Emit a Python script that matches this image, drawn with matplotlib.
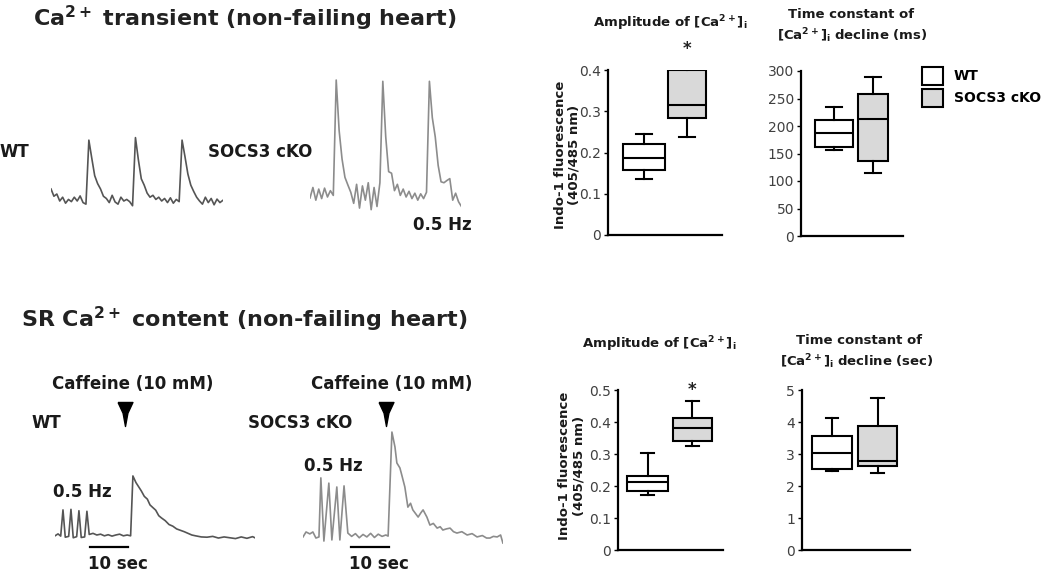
import matplotlib
matplotlib.use("Agg")
import matplotlib.pyplot as plt
from matplotlib.patches import Patch
import numpy as np

plt.rcParams['font.family'] = 'DejaVu Sans'
plt.rcParams['mathtext.fontset'] = 'dejavusans'
plt.rcParams['mathtext.default'] = 'bf'

# ---- data ----
groups = ["WT", "SOCS3 cKO"]

# Ca2+ transient traces (ratio 405/485), sampled every 0.125 s
dt_cat = 0.125
wt_cat = [0.838, 0.815, 0.822, 0.800, 0.812, 0.793, 0.805, 0.798, 0.812, 0.800,
          0.816, 0.795, 0.790, 0.992, 0.935, 0.880, 0.855, 0.838, 0.815, 0.808,
          0.795, 0.818, 0.797, 0.790, 0.812, 0.800, 0.805, 0.798, 0.785, 1.000,
          0.930, 0.870, 0.850, 0.825, 0.812, 0.818, 0.805, 0.812, 0.800, 0.808,
          0.795, 0.810, 0.793, 0.805, 0.798, 0.992, 0.940, 0.885, 0.850, 0.830,
          0.812, 0.800, 0.790, 0.812, 0.795, 0.808, 0.788, 0.806, 0.795, 0.802]
ko_cat = [0.797, 0.830, 0.790, 0.825, 0.795, 0.828, 0.800, 0.820, 0.805, 1.169,
          1.010, 0.920, 0.862, 0.838, 0.815, 0.780, 0.840, 0.765, 0.835, 0.790,
          0.845, 0.760, 0.830, 0.770, 0.845, 1.165, 0.990, 0.880, 0.875, 0.820,
          0.840, 0.805, 0.825, 0.800, 0.818, 0.795, 0.812, 0.790, 0.810, 0.795,
          0.815, 1.165, 1.050, 0.990, 0.900, 0.848, 0.845, 0.852, 0.858, 0.790,
          0.812, 0.785, 0.770]

# SR content traces (time s, ratio)
wt_sr_t = [0, 0.8, 1.5, 2.1, 2.7, 3.6, 4.2, 4.8, 5.7, 6.3,
           6.9, 7.8, 8.4, 9.0, 10, 11, 12, 13, 14, 15,
           16, 17, 18, 19, 19.9, 20.5, 21.3, 22.0, 22.7, 23.5,
           24.3, 25.0, 25.7, 26.5, 27.3, 28.0, 29.0, 30.0, 31.0, 32.0,
           33.0, 34.0, 35.0, 36.0, 37.0, 38.5, 40.0, 41.5, 43.0, 44.5,
           46.0, 47.5, 49.0, 50.5, 52.0, 52.6]
wt_sr_v = [0.797, 0.804, 0.796, 0.891, 0.792, 0.795, 0.893, 0.790, 0.794, 0.888,
           0.791, 0.793, 0.886, 0.802, 0.806, 0.800, 0.803, 0.797, 0.801, 0.796,
           0.800, 0.803, 0.797, 0.800, 0.797, 1.014, 0.990, 0.975, 0.960, 0.940,
           0.930, 0.909, 0.900, 0.890, 0.870, 0.862, 0.852, 0.838, 0.832, 0.822,
           0.817, 0.812, 0.806, 0.800, 0.797, 0.793, 0.792, 0.795, 0.789, 0.793,
           0.790, 0.787, 0.793, 0.788, 0.794, 0.790]
ko_sr_t = [0, 0.8, 1.8, 2.6, 3.4, 4.2, 4.7, 5.5, 6.8, 7.6,
           8.9, 9.7, 10.8, 11.8, 12.8, 13.8, 14.8, 15.8, 16.8, 17.8,
           18.8, 19.8, 20.8, 21.8, 22.4, 23.4, 24.2, 24.7, 25.5, 26.0,
           26.8, 27.6, 28.3, 28.9, 29.6, 30.3, 31.0, 31.6, 32.6, 33.4,
           34.3, 35.3, 36.1, 36.8, 37.7, 38.7, 39.6, 40.5, 41.8, 43.2,
           44.5, 45.8, 47.2, 48.3, 49.2, 50.1, 51.1, 52.0, 52.6]
ko_sr_v = [0.793, 0.811, 0.804, 0.811, 0.789, 0.793, 1.007, 0.778, 0.988, 0.782,
           0.974, 0.782, 0.978, 0.807, 0.795, 0.805, 0.790, 0.802, 0.793, 0.806,
           0.791, 0.803, 0.795, 0.800, 0.796, 1.173, 1.119, 1.061, 1.043, 1.017,
           0.974, 0.901, 0.915, 0.891, 0.878, 0.865, 0.880, 0.891, 0.865, 0.836,
           0.842, 0.825, 0.830, 0.818, 0.822, 0.825, 0.812, 0.807, 0.812, 0.800,
           0.805, 0.793, 0.798, 0.789, 0.789, 0.795, 0.793, 0.800, 0.771]
caffeine_t = [18.5, 21.8]  # WT, SOCS3 cKO

# box stats: whislo, q1, med, q3, whishi
amp_cat = [[0.135, 0.158, 0.186, 0.221, 0.244], [0.237, 0.283, 0.315, 0.400, 0.432]]
tau_cat = [[157, 162, 188, 211, 234], [115, 136, 212, 258, 290]]
amp_sr = [[0.172, 0.185, 0.212, 0.231, 0.304], [0.325, 0.342, 0.380, 0.411, 0.467]]
tau_sr = [[2.48, 2.53, 3.02, 3.56, 4.13], [2.40, 2.63, 2.79, 3.88, 4.74]]

amp_cat_ticks = [0, 0.1, 0.2, 0.3, 0.4]
tau_cat_ticks = [0, 50, 100, 150, 200, 250, 300]
amp_sr_ticks = [0, 0.1, 0.2, 0.3, 0.4, 0.5]
tau_sr_ticks = [0, 1, 2, 3, 4, 5]

W, H = 1050, 571
fig = plt.figure(figsize=(W / 100, H / 100), dpi=100)

def rect(left, top, right, bottom):
    return [left / W, 1 - bottom / H, (right - left) / W, (bottom - top) / H]

def txt(x, y, s, size=12, ha='left', va='baseline', **kw):
    kw.setdefault('weight', 'bold')
    kw.setdefault('color', '#1a1a1a')
    fig.text(x / W, 1 - y / H, s, fontsize=size, ha=ha, va=va, **kw)

def trace_axes(x0, y_ref, t_max, lo, hi, px_s, px_u, ref=0.80):
    top = y_ref - (hi - ref) * px_u
    bottom = y_ref + (ref - lo) * px_u
    ax = fig.add_axes(rect(x0, top, x0 + t_max * px_s, bottom))
    ax.set_xlim(0, t_max)
    ax.set_ylim(lo, hi)
    ax.axis('off')
    return ax

wt_col, ko_col = '#555555', '#8c8c8c'

# ---- Ca2+ transient traces ----
t = np.arange(len(wt_cat)) * dt_cat
ax = trace_axes(51, 201, t[-1], 0.75, 1.05, 23.3, 317)
ax.plot(t, wt_cat, color=wt_col, lw=1.2)
t = np.arange(len(ko_cat)) * dt_cat
ax = trace_axes(310, 197, t[-1], 0.74, 1.20, 23.3, 317)
ax.plot(t, ko_cat, color=ko_col, lw=1.2)

# ---- SR content traces ----
tri = [(-0.62, 1), (0.62, 1), (0.2, 0.1), (0, -1), (-0.2, 0.1), (-0.62, 1)]
for x0, ts, vs, col, tc, hi in [(55, wt_sr_t, wt_sr_v, wt_col, caffeine_t[0], 1.05),
                                (303, ko_sr_t, ko_sr_v, ko_col, caffeine_t[1], 1.20)]:
    ax = trace_axes(x0, 535, ts[-1], 0.75, hi, 3.8, 276)
    ax.plot(ts, vs, color=col, lw=1.2)
    sb0 = (tc + 0.7) - 10
    ax.plot([sb0, sb0 + 10], [0.757, 0.757], color='black', lw=1.6, clip_on=False)
    ax.plot([tc], [1.238], marker=tri, markersize=17.3, color='black', clip_on=False)

# ---- box plots ----
def box_panel(r, stats, ticks, xl, widths, capw):
    ax = fig.add_axes(rect(*r))
    bxs = [dict(whislo=s[0], q1=s[1], med=s[2], q3=s[3], whishi=s[4], label=g)
           for s, g in zip(stats, groups)]
    arts = ax.bxp(bxs, positions=[1, 2], widths=widths, capwidths=capw,
                  showfliers=False, patch_artist=True,
                  boxprops=dict(lw=1.5, edgecolor='black'),
                  whiskerprops=dict(lw=1.5, color='black'),
                  capprops=dict(lw=1.5, color='black'),
                  medianprops=dict(lw=1.5, color='black'))
    for b, fc in zip(arts['boxes'], ['white', '#d9d9d9']):
        b.set_facecolor(fc)
    ax.set_xlim(*xl)
    ax.set_ylim(ticks[0], ticks[-1])
    ax.set_yticks(ticks)
    ax.set_yticklabels([('%g' % v) for v in ticks])
    ax.set_xticks([])
    for s in ['top', 'right']:
        ax.spines[s].set_visible(False)
    for s in ['left', 'bottom']:
        ax.spines[s].set_linewidth(1.6)
    ax.tick_params(axis='y', length=3, width=1, pad=2, labelsize=10, labelcolor='#404040')
    return ax

ax = box_panel((608, 70, 722, 235), amp_cat, amp_cat_ticks, (0.163, 2.814), [0.977, 0.884], [0.35, 0.35])
ax.annotate('*', xy=(2, amp_cat[1][4]), xytext=(0, -1), textcoords='offset points',
            ha='center', va='bottom', fontsize=12, weight='bold', color='#222222',
            annotation_clip=False)
box_panel((801, 71, 903, 236), tau_cat, tau_cat_ticks, (0.154, 2.769), [0.974, 0.769], [0.4, 0.4])
ax = box_panel((618, 390, 723, 550), amp_sr, amp_sr_ticks, (0.344, 2.678), [0.911, 0.867], [0.27, 0.27])
ax.annotate('*', xy=(2, amp_sr[1][4]), xytext=(0, 1), textcoords='offset points',
            ha='center', va='bottom', fontsize=12, weight='bold', color='#222222',
            annotation_clip=False)
box_panel((802, 390, 910, 550), tau_sr, tau_sr_ticks, (0.341, 2.714), [0.879, 0.857], [0.27, 0.27])

# ---- texts ----
txt(33, 26, 'Ca$^{2+}$ transient (non-failing heart)', size=16, color='#222222')
txt(21, 327, 'SR Ca$^{2+}$ content (non-failing heart)', size=16, color='#222222')
txt(0, 157, 'WT')
txt(208, 157, 'SOCS3 cKO')
txt(413, 230, '0.5 Hz')
txt(133, 389, 'Caffeine (10 mM)', ha='center')
txt(392, 389, 'Caffeine (10 mM)', ha='center')
txt(32, 428, 'WT')
txt(248, 428, 'SOCS3 cKO')
txt(53, 497, '0.5 Hz')
txt(304, 471, '0.5 Hz')
txt(118, 569, '10 sec', ha='center')
txt(379, 569, '10 sec', ha='center')

txt(670, 27, 'Amplitude of [Ca$^{2+}$]$_{i}$', size=9.5, ha='center')
txt(851, 18, 'Time constant of', size=9.5, ha='center')
txt(852, 40, '[Ca$^{2+}$]$_{i}$ decline (ms)', size=9.5, ha='center')
txt(659, 348, 'Amplitude of [Ca$^{2+}$]$_{i}$', size=9.5, ha='center')
txt(859, 344, 'Time constant of', size=9.5, ha='center')
txt(857, 366, '[Ca$^{2+}$]$_{i}$ decline (sec)', size=9.5, ha='center')

txt(567, 155, 'Indo-1 fluorescence\n(405/485 nm)', size=9.5, ha='center', va='center',
    rotation=90, linespacing=1.1, multialignment='center')
txt(572, 466, 'Indo-1 fluorescence\n(405/485 nm)', size=9.5, ha='center', va='center',
    rotation=90, linespacing=1.1, multialignment='center')

handles = [Patch(facecolor='white', edgecolor='black', lw=1.5),
           Patch(facecolor='#d9d9d9', edgecolor='black', lw=1.5)]
fig.legend(handles, groups, loc='upper left', bbox_to_anchor=(922 / W, 1 - 67 / H),
           frameon=False, prop=dict(size=10, weight='bold'), handlelength=1.5,
           handleheight=1.6, handletextpad=0.8, labelspacing=0.3,
           borderaxespad=0, borderpad=0)

fig.savefig('out.png', dpi=100)
